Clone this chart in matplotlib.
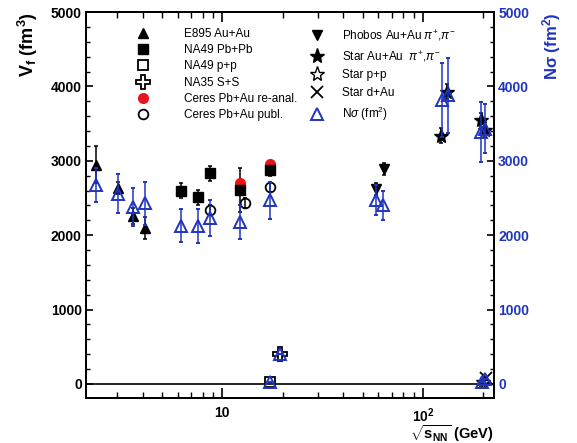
import matplotlib.pyplot as plt
from matplotlib.lines import Line2D
from matplotlib.ticker import FixedLocator, FixedFormatter, MultipleLocator, NullFormatter

plt.rcParams['font.family'] = ['Liberation Sans', 'DejaVu Sans']
plt.rcParams['mathtext.fontset'] = 'custom'
plt.rcParams['mathtext.rm'] = 'Liberation Sans'
plt.rcParams['mathtext.it'] = 'Liberation Sans:italic'
plt.rcParams['mathtext.bf'] = 'Liberation Sans:bold'

BLUE = '#1f35c0'
RED = '#e8141c'

# E895 Au+Au
e895_x = [2.35, 3.03, 3.6, 4.1]
e895_y = [2950, 2640, 2260, 2100]
e895_err = [250, 80, 110, 150]

# NA49 Pb+Pb
na49_x = [6.2, 7.6, 8.7, 12.2, 17.25]
na49_y = [2600, 2510, 2830, 2610, 2870]
na49_err = [100, 100, 100, 300, 80]

# NA49 p+p
na49pp_x = [17.3]
na49pp_y = [20]

# NA35 S+S
na35_x = [19.3]
na35_y = [400]

# Ceres Pb+Au re-analysed
ceres_re_x = [12.2, 17.25]
ceres_re_y = [2700, 2960]

# Ceres Pb+Au published
ceres_pub_x = [8.7, 13.0, 17.25]
ceres_pub_y = [2340, 2430, 2650]
ceres_pub_err = [70, 70, 70]

# Phobos Au+Au pi+, pi-
phobos_x = [64.0, 58.5]
phobos_y = [2890, 2620]
phobos_err = [80, 80]

# Star Au+Au pi+, pi-
star_x = [123, 132.5, 195, 204]
star_y = [3340, 3930, 3550, 3420]
star_err = [100, 100, 100, 100]

# Star p+p, Star d+Au
starpp_x = [200]
starpp_y = [20]
stardau_x = [206]
stardau_y = [75]

# N sigma (fm^2), right axis
nsig_x = [2.35, 3.03, 3.6, 4.1, 6.2, 7.6, 8.7, 12.2, 17.25,
          58.5, 63.0, 124, 133, 195, 204, 17.3, 19.3, 196, 203]
nsig_y = [2680, 2560, 2380, 2430, 2130, 2120, 2230, 2180, 2470,
          2470, 2400, 3820, 3880, 3390, 3430, 20, 400, 30, 60]
nsig_err = [230, 260, 250, 290, 220, 230, 240, 230, 250,
            200, 200, 500, 500, 400, 330, 0, 0, 0, 0]

fig = plt.figure(figsize=(5.77, 4.43), dpi=100)
ax = fig.add_axes([0.149, 0.1016, 0.707, 0.871])
ax2 = ax.twinx()

ax.set_xscale('log')
ax.set_xlim(2.09, 226)
ax.set_ylim(-190, 5000)
ax2.set_ylim(-190, 5000)

ax.axhline(0, color='black', lw=1.2, zorder=1)

eb = dict(ls='none', capsize=1.5, elinewidth=1.1, capthick=1.1)
ax.errorbar(e895_x, e895_y, yerr=e895_err, fmt='^', color='black', ms=7, **eb)
ax.errorbar(na49_x, na49_y, yerr=na49_err, fmt='s', color='black', ms=6.5, **eb)
ax.plot(na49pp_x, na49pp_y, 's', mfc='none', mec='black', mew=1.3, ms=7)
ax.plot(na35_x, na35_y, 'P', mfc='none', mec='black', mew=1.3, ms=10)
ax.errorbar(ceres_pub_x, ceres_pub_y, yerr=ceres_pub_err, fmt='o', mfc='none',
            mec='black', mew=1.3, color='black', ms=7, **eb)
ax.plot(ceres_re_x, ceres_re_y, 'o', color=RED, ms=7)
ax.errorbar(phobos_x, phobos_y, yerr=phobos_err, fmt='v', color='black', ms=7, **eb)
ax.errorbar(star_x, star_y, yerr=star_err, fmt='*', color='black', ms=11, **eb)
ax.plot(starpp_x, starpp_y, '*', mfc='none', mec='black', mew=1.0, ms=11)
ax.plot(stardau_x, stardau_y, 'x', color='black', mew=1.3, ms=8)

ax2.errorbar(nsig_x, nsig_y, yerr=nsig_err, fmt='^', mfc='none', mec=BLUE,
             mew=1.4, color=BLUE, ms=8, **eb)

# ticks
for a in (ax, ax2):
    a.tick_params(which='both', direction='in', labelsize=10)
    for s in a.spines.values():
        s.set_linewidth(1.4)
ax.tick_params(which='major', axis='y', length=5, width=1.2, pad=3)
ax.tick_params(which='minor', axis='y', length=3, width=1.0)
ax.tick_params(which='major', axis='x', length=7, width=1.2, pad=6, top=True)
ax.tick_params(which='minor', axis='x', length=4, width=1.0, top=True)
ax2.tick_params(which='major', axis='y', length=5, width=1.2, pad=3, labelcolor=BLUE)
ax2.tick_params(which='minor', axis='y', length=3, width=1.0)

for a in (ax, ax2):
    a.yaxis.set_major_locator(MultipleLocator(1000))
    a.yaxis.set_minor_locator(MultipleLocator(200))
    for lbl in a.get_yticklabels():
        lbl.set_fontweight('bold')

ax.xaxis.set_major_locator(FixedLocator([10, 100]))
ax.xaxis.set_major_formatter(FixedFormatter(['10', r'$\mathbf{10^2}$']))
ax.xaxis.set_minor_locator(FixedLocator([3, 4, 5, 6, 7, 8, 9, 20, 30, 40, 50, 60, 70, 80, 90, 200]))
ax.xaxis.set_minor_formatter(NullFormatter())
for lbl in ax.get_xticklabels():
    lbl.set_fontweight('bold')

ax.set_xlabel(r'$\sqrt{\mathbf{s_{NN}}}$ (GeV)', fontsize=10.5, fontweight='bold', loc='right', labelpad=-1)
ax.set_ylabel(r'V$_\mathbf{f}$ (fm$^\mathbf{3}$)', fontsize=13, fontweight='bold', loc='top', labelpad=8)
ax2.set_ylabel(r'N$\mathbf{\sigma}$ (fm$^\mathbf{2}$)', fontsize=12, fontweight='bold', color=BLUE,
               loc='top', labelpad=8)

# legends
h1 = [
    Line2D([], [], ls='none', marker='^', color='black', ms=7),
    Line2D([], [], ls='none', marker='s', color='black', ms=6.5),
    Line2D([], [], ls='none', marker='s', mfc='none', mec='black', mew=1.3, ms=7),
    Line2D([], [], ls='none', marker='P', mfc='none', mec='black', mew=1.3, ms=10),
    Line2D([], [], ls='none', marker='o', color=RED, ms=7),
    Line2D([], [], ls='none', marker='o', mfc='none', mec='black', mew=1.3, ms=7),
]
l1 = ['E895 Au+Au', 'NA49 Pb+Pb', 'NA49 p+p', 'NA35 S+S',
      'Ceres Pb+Au re-anal.', 'Ceres Pb+Au publ.']
h2 = [
    Line2D([], [], ls='none', marker='v', color='black', ms=7),
    Line2D([], [], ls='none', marker='*', color='black', ms=11),
    Line2D([], [], ls='none', marker='*', mfc='none', mec='black', mew=1.0, ms=11),
    Line2D([], [], ls='none', marker='x', color='black', mew=1.3, ms=8),
    Line2D([], [], ls='none', marker='^', mfc='none', mec=BLUE, mew=1.4, ms=8),
]
l2 = [r'Phobos Au+Au $\pi^{+}$,$\pi^{-}$', r'Star Au+Au  $\pi^{+}$,$\pi^{-}$',
      'Star p+p', 'Star d+Au', r'N$\sigma$ (fm$^2$)']

leg1 = ax2.legend(h1, l1, loc='upper left', bbox_to_anchor=(131 / 577, 1 - 28 / 443),
                  bbox_transform=fig.transFigure, frameon=False, fontsize=8.5,
                  handlelength=2, handletextpad=2.5, labelspacing=0.36,
                  borderpad=0, borderaxespad=0, numpoints=1)
ax2.add_artist(leg1)
ax2.legend(h2, l2, loc='upper left', bbox_to_anchor=(305 / 577, 1 - 28 / 443),
           bbox_transform=fig.transFigure, frameon=False, fontsize=8.5,
           handlelength=2, handletextpad=1.1, labelspacing=0.5,
           borderpad=0, borderaxespad=0, numpoints=1)

fig.savefig('out.png', dpi=100)
